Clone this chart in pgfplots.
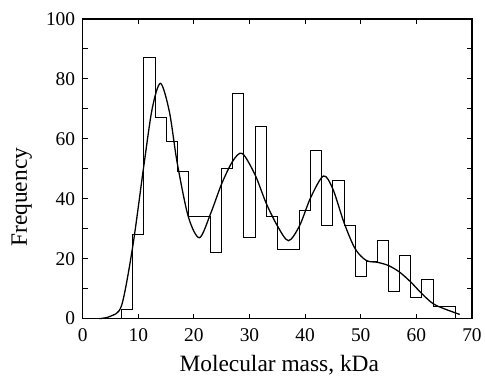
\documentclass[border=0pt]{standalone}
\usepackage{fontspec}
\setmainfont{Liberation Serif}
\usepackage{pgfplots}
\pgfplotsset{compat=1.18}
\begin{document}
\begin{tikzpicture}
\begin{axis}[
  scale only axis,
  width=391pt, height=301pt,
  xmin=0, xmax=70, ymin=0, ymax=100,
  xtick={0,10,...,70},
  ytick={0,20,...,100},
  minor ytick={10,30,...,90},
  tick align=inside,
  major tick length=5pt,
  minor tick length=5pt,
  axis line style={line width=1.3pt},
  every tick/.style={line width=0.9pt, black},
  /pgf/number format/assume math mode=true,
  tick label style={font=\fontsize{19.5}{23}\selectfont},
  xticklabel style={yshift=-6pt},
  yticklabel style={xshift=-4pt},
  xlabel={Molecular mass, kDa},
  ylabel={Frequency},
  every axis x label/.style={at={(axis description cs:0.505,-0.178)}, anchor=base, font=\fontsize{23.5}{27}\selectfont},
  every axis y label/.style={at={(axis description cs:-0.143,0.405)}, rotate=90, anchor=base, font=\fontsize{23.5}{27}\selectfont},
  clip=false,
]
\addplot[const plot mark left, line width=0.9pt, black] coordinates {
(7,0) (7,3) (9,28) (11,87) (13,67) (15,59) (17,49) (19,34) (21,34) (23,22) (25,50)
(27,75) (29,27) (31,64) (33,34) (35,23) (37,23) (39,36) (41,56) (43,31) (45,46)
(47,31) (49,14) (51,19) (53,26) (55,9) (57,21) (59,7) (61,13) (63,4) (65,4) (67,0)
};
\addplot[smooth, tension=0.5, line width=1.3pt, black] coordinates {
(3,0) (5,0.8) (7,4.4) (9,24) (11,51) (12.5,70) (14,78.5) (15.6,69) (17,52) (19,34)
(21,27) (23,35) (25,45) (27,52.6) (28.7,55.1) (31,48) (33,38.5) (35,31) (37,26)
(39,31) (41,40.4) (43.3,47.6) (45,43.2) (47,32) (49,23.3) (51,19.4) (53,18.8)
(55,17.7) (57,15.5) (59,12.2) (61,8.3) (63,5) (65,3.3) (67.8,1.4)
};
\end{axis}
\draw[draw=none] ([shift={(-83pt,-57pt)}]current axis.south west) rectangle ([shift={(11pt,19pt)}]current axis.north east);
\end{tikzpicture}
\end{document}
